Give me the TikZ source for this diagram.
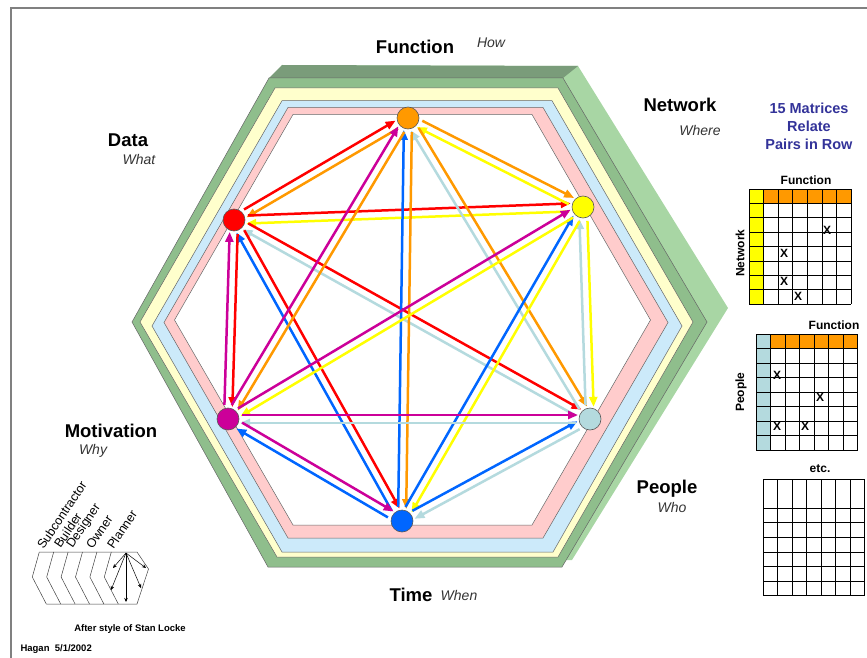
\documentclass[tikz,border=0pt]{standalone}
\usepackage{fontspec}
\setmainfont{Liberation Sans}
\usetikzlibrary{arrows.meta,calc,positioning}

\definecolor{bandpink}{RGB}{255,204,204}
\definecolor{bandblue}{RGB}{204,234,250}
\definecolor{bandyellow}{RGB}{255,255,204}
\definecolor{greenfront}{RGB}{143,190,140}
\definecolor{greentop}{RGB}{122,156,122}
\definecolor{greenback}{RGB}{168,214,164}
\definecolor{cfunc}{RGB}{255,153,0}
\definecolor{cnet}{RGB}{255,255,0}
\definecolor{cpeople}{RGB}{180,218,222}
\definecolor{ctime}{RGB}{0,102,255}
\definecolor{cmot}{RGB}{204,0,153}
\definecolor{cdata}{RGB}{255,0,0}
\definecolor{titleblue}{RGB}{51,51,153}

\pgfdeclarelayer{bands}
\pgfdeclarelayer{links}
\pgfsetlayers{bands,links,main}

\begin{document}
\begin{tikzpicture}[x=1pt,y=-1pt,>={Triangle[length=10pt,width=8pt]},
  zach/.style={circle,draw=black!65,line width=0.6pt,minimum size=22pt,inner sep=0pt},
  rel/.style={->,line width=2.5pt,shorten <=14pt,shorten >=12pt},
  band/.style={draw=black!60,line width=0.5pt},
  topic/.style={font=\bfseries\fontsize{18.5}{20}\selectfont},
  quest/.style={font=\itshape\fontsize{14}{16}\selectfont,text=black!80},
  gridline/.style={draw=black,line width=0.7pt},
  markx/.style={font=\bfseries\fontsize{12}{12}\selectfont,inner sep=0pt},
  mhead/.style={font=\bfseries\fontsize{12}{12}\selectfont,inner sep=1pt},
  role/.style={font=\fontsize{12.5}{13}\selectfont,rotate=56,anchor=south west,inner sep=0.5pt},
  sketch/.style={draw=black!75,line width=0.5pt},
  note/.style={font=\bfseries\fontsize{9.5}{11}\selectfont}]

\useasboundingbox (0,0) rectangle (867,658);
\draw[black!50,line width=1.6pt] (11,658) -- (11,8) -- (867,8);

% the framed hexagon, plates from back to front
\begin{pgfonlayer}{bands}
\fill[greenback] (135,320) -- (282,65) -- (578,66) -- (728,308) -- (572,560) -- (270,565) -- cycle;
\fill[greentop] (269,78) -- (282,65) -- (578,66) -- (563,78) -- cycle;
\filldraw[band,fill=greenfront] (132,322) -- (269,78) -- (563,78) -- (707,322) -- (562,567) -- (268,567) -- cycle;
\filldraw[band,fill=bandyellow] (140,322) -- (275,88) -- (558,88) -- (693,322) -- (558,557) -- (277,557) -- cycle;
\filldraw[band,fill=bandblue] (152,326) -- (282,100.7) -- (552,100.7) -- (682,326) -- (553,552) -- (282,552) -- cycle;
\filldraw[band,fill=bandpink] (164,322.5) -- (288,107.5) -- (543,107.5) -- (668,322.5) -- (543,538) -- (288,538) -- cycle;
\filldraw[band,fill=white] (174.5,320) -- (293,114.5) -- (532,114.5) -- (650.5,320) -- (532,525) -- (293,525) -- cycle;
\end{pgfonlayer}

\node[zach,fill=cfunc] (F) at (408,118) {};
\node[zach,fill=cnet] (N) at (583,207) {};
\node[zach,fill=cpeople] (P) at (590,419) {};
\node[zach,fill=ctime] (T) at (402,521) {};
\node[zach,fill=cmot] (M) at (228,419) {};
\node[zach,fill=cdata] (D) at (234,220) {};

\begin{pgfonlayer}{links}
\foreach \a/\b/\c in {D/F/cdata,F/D/cfunc,D/N/cdata,N/D/cnet,D/P/cdata,P/D/cpeople,
    D/T/cdata,T/D/ctime,D/M/cdata,M/D/cmot,F/N/cfunc,N/F/cnet,F/P/cfunc,P/F/cpeople,
    F/T/cfunc,T/F/ctime,F/M/cfunc,M/F/cmot,N/P/cnet,P/N/cpeople,N/T/cnet,T/N/ctime,
    N/M/cnet,M/N/cmot,P/T/cpeople,T/P/ctime,P/M/cpeople,M/P/cmot,T/M/ctime,M/T/cmot}
  \draw[rel,\c] ($(\a)!4pt!90:(\b)$) -- ($(\b)!4pt!-90:(\a)$);
\end{pgfonlayer}

% interrogatives
\node[topic] (func) at (415,47) {Function};
\node[quest] (how) at (491,43) {How};
\node[topic] (net) at (680,105) {Network};
\node[quest] (where) at (700,130) {Where};
\node[topic] (data) at (128,140) {Data};
\node[quest] (what) at (139,159) {What};
\node[topic] (mot) at (111,431) {Motivation};
\node[quest] (why) at (93,451) {Why};
\node[topic] (peo) at (667,489) {People};
\node[quest] (who) at (672,507) {Who};
\node[topic] (time) at (411,595) {Time};
\node[quest] (when) at (459,595) {When};

\node[font=\bfseries\fontsize{14.5}{18}\selectfont,text=titleblue,align=center] (title) at (809,126) {15 Matrices\\Relate\\Pairs in Row};

% matrix network x function
\fill[cnet] (749,189) rectangle (763.6,304.2);
\fill[cfunc] (763.6,189) rectangle (851.2,203.4);
\foreach \i in {0,...,7} \draw[gridline] ({749+14.6*\i},189) -- ++(0,115.2);
\foreach \j in {0,...,8} \draw[gridline] (749,{189+14.4*\j}) -- ++(102.2,0);
\node[mhead] (mhf1) at (806,180) {Function};
\node[mhead,rotate=90] (mhn1) at (740,253) {Network};
\node[markx] (x1) at (827,230) {X};
\node[markx] (x2) at (784,253) {X};
\node[markx] (x3) at (784,281) {X};
\node[markx] (x4) at (798,296) {X};

% matrix people x function
\fill[cpeople] (756,334) rectangle (770.5,450);
\fill[cfunc] (770.5,334) rectangle (857.5,348.5);
\foreach \i in {0,...,7} \draw[gridline] ({756+14.5*\i},334) -- ++(0,116);
\foreach \j in {0,...,8} \draw[gridline] (756,{334+14.5*\j}) -- ++(101.5,0);
\node[mhead] (mhf2) at (834,325) {Function};
\node[mhead,rotate=90] (mhp2) at (741,392) {People};
\node[markx] (x5) at (777,375) {X};
\node[markx] (x6) at (820,397) {X};
\node[markx] (x7) at (777,426) {X};
\node[markx] (x8) at (805,426) {X};

% blank matrix
\foreach \i in {0,...,7} \draw[gridline] ({763.3+14.5*\i},479) -- ++(0,116.8);
\foreach \j in {0,2,3,4,5,6,7,8} \draw[gridline] (763.3,{479+14.6*\j}) -- ++(101.5,0);
\node[mhead] (etc) at (820,469) {etc.};

% stack of perspectives
\foreach \k in {0,...,5} \draw[sketch] ({39.3+14.4*\k},552) -- ++(-7,25) -- ++(14,27);
\draw[sketch] (39.3,552) -- (137,552) -- (148.5,569) -- (137,604) -- (46.3,604);
\coordinate (hub) at (126,553);
\foreach \p in {(113,568),(111,590),(126,602),(141,588),(146,568)}
  \draw[sketch,black,-{Stealth[length=4pt,width=3.5pt]}] (hub) -- \p;
\node[role] (r1) at (44,551) {Subcontractor};
\node[role] (r2) at (61,550) {Builder};
\node[role] (r3) at (75,551) {Designer};
\node[role] (r4) at (93,551) {Owner};
\node[role] (r5) at (114,551) {Planner};

\node[note] (after) at (130,629) {After style of Stan Locke};
\node[note,anchor=west] (sign) at (17,649) {Hagan\ \ 5/1/2002};
\end{tikzpicture}
\end{document}
